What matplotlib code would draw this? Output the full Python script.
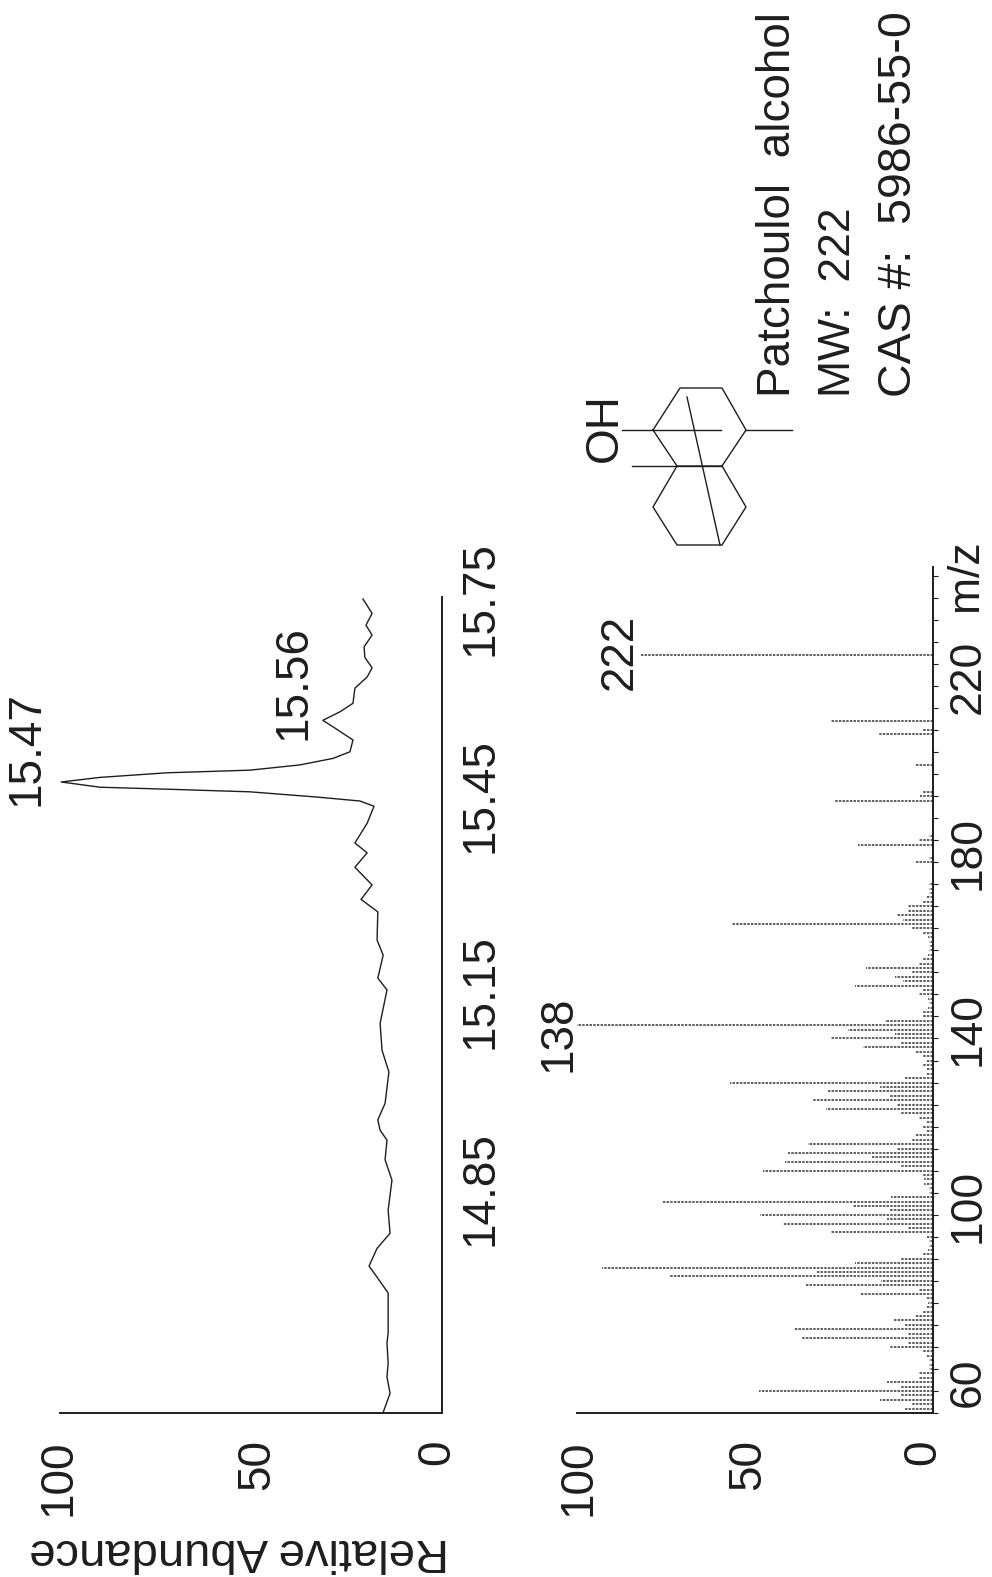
import matplotlib
matplotlib.use('Agg')
import matplotlib.pyplot as plt
from matplotlib.ticker import MultipleLocator
from matplotlib.transforms import ScaledTranslation

plt.rcParams['font.family'] = ['Liberation Sans', 'DejaVu Sans']

# chromatogram
rt = [14.509, 14.538, 14.563, 14.584, 14.615, 14.630, 14.691, 14.715, 14.732, 14.759,
      14.782, 14.817, 14.863, 14.894, 14.924, 14.939, 14.955, 14.980, 15.028, 15.061,
      15.102, 15.153, 15.171, 15.206, 15.229, 15.272, 15.291, 15.313, 15.340, 15.362,
      15.377, 15.407, 15.433, 15.441, 15.447, 15.455, 15.459, 15.462, 15.470, 15.477,
      15.484, 15.488, 15.496, 15.506, 15.516, 15.534, 15.554, 15.564, 15.577, 15.590,
      15.613, 15.630, 15.644, 15.660, 15.676, 15.694, 15.709, 15.727, 15.749]
rt_abundance = [15.4, 13.6, 14.4, 14.1, 14.4, 14.1, 14.1, 17.0, 19.1, 17.0,
                13.6, 14.1, 13.1, 14.9, 14.4, 16.2, 16.8, 14.9, 13.9, 15.7,
                16.2, 14.4, 16.8, 15.4, 17.0, 16.8, 21.2, 18.3, 22.8, 19.6,
                22.8, 19.6, 17.8, 21.5, 32.7, 50.3, 72.0, 89.5, 99.7, 89.5,
                72.0, 50.3, 37.2, 28.5, 24.1, 23.3, 28.5, 31.2, 26.7, 23.3,
                22.8, 19.6, 18.3, 20.2, 20.4, 18.3, 19.9, 18.3, 20.7]

rt_ticks = [14.85, 15.15, 15.45, 15.75]
abundance_ticks = [0, 50, 100]

# mass spectrum
mz = [50, 51, 52, 53, 54, 55, 56, 57, 58, 59, 60, 61, 62, 63, 64, 65, 66, 67, 68, 69,
      70, 71, 72, 73, 74, 75, 76, 77, 78, 79, 80, 81, 82, 83, 84, 85, 86, 87, 88, 89,
      90, 91, 92, 93, 94, 95, 96, 97, 98, 99, 100, 101, 102, 103, 104, 105, 106, 107,
      108, 109, 110, 111, 112, 113, 114, 115, 116, 117, 118, 119, 120, 121, 122, 123,
      124, 125, 126, 127, 128, 129, 130, 131, 132, 133, 134, 135, 136, 137, 138, 139,
      140, 141, 142, 143, 144, 145, 146, 147, 148, 149, 150, 151, 152, 153, 154, 155,
      156, 157, 158, 159, 160, 161, 162, 163, 164, 165, 166, 167, 168, 169, 170, 175,
      176, 179, 180, 181, 189, 190, 191, 197, 204, 205, 207, 222]
mz_abundance = [6, 8, 6, 15, 9, 49, 9, 13, 4, 4, 1, 1, 1, 2, 3, 12, 7, 37, 7, 39,
                8, 11, 5, 3, 2, 1.5, 2, 20.6, 4, 35.6, 14.5, 74, 33, 93, 22, 9.4, 3, 1.5, 1, 1,
                2, 28.6, 7, 42, 13, 48.7, 12, 22.5, 76, 11.7, 1, 1, 2.5, 2.5, 3, 47.8, 9, 41.7,
                17, 40.7, 10, 35, 6, 5, 2, 3, 2, 4, 9, 30, 10, 34, 12, 29.5,
                15, 57, 8, 2, 2, 3, 2, 3, 5, 19.7, 9, 28.6, 10.8, 24, 100, 13.6,
                3, 3, 1.5, 1, 1.5, 4, 3, 22, 8.4, 10.8, 6, 18.7, 4, 3, 1.5, 1,
                1, 1, 1.5, 3, 6, 56.6, 8.4, 10, 7, 7, 3, 2, 1, 1, 1, 5,
                1, 21, 4, 1, 27.6, 3.7, 3, 5, 15.4, 3, 28.6, 82]

mz_ticks = [60, 100, 140, 180, 220]

# molecule outline, in picture pixels
ring_a = [(653, 430), (680, 388), (722, 388), (746, 430), (722, 466), (677, 466), (653, 430)]
ring_b = [(677, 466), (653, 507), (677, 545), (722, 545), (746, 507), (722, 466)]
bonds = [[(622, 430), (721, 430)], [(746, 430), (792, 430)],
         [(632, 466), (722, 466)], [(687, 397), (720, 545)]]

W, H = 992, 1577
INK = '#1e1e1e'
FS = 33


def px_axes(fig, left, right, top, bottom):
    return fig.add_axes([left / W, 1 - bottom / H, (right - left) / W, (bottom - top) / H])


def style_axes(ax, y_pad, x_pad, x_shifts):
    for side in ['top', 'left']:
        ax.spines[side].set_visible(False)
    for side in ['bottom', 'right']:
        ax.spines[side].set_linewidth(1.4)
        ax.spines[side].set_color(INK)
    ax.yaxis.tick_right()
    ax.set_xticks(abundance_ticks)
    ax.set_xticklabels([str(v) for v in abundance_ticks], rotation=90, fontsize=FS, color=INK)
    ax.tick_params(axis='x', length=0, pad=x_pad)
    ax.tick_params(axis='y', pad=y_pad)
    for lab, dx in zip(ax.get_xticklabels(), x_shifts):
        lab.set_transform(lab.get_transform() + ScaledTranslation(dx / 100, 0, fig.dpi_scale_trans))


fig = plt.figure(figsize=(W / 100, H / 100), dpi=100)

# top panel: chromatogram on its side
ax1 = px_axes(fig, 60, 442, 597, 1413)
ax1.plot(rt_abundance, rt, color=INK, lw=1.0)
ax1.set_xlim(100, 0)
ax1.set_ylim(14.508, 15.752)
ax1.set_yticks(rt_ticks)
ax1.set_yticklabels([f'{v:.2f}' for v in rt_ticks], rotation=90, va='center', fontsize=FS, color=INK)
ax1.tick_params(axis='y', length=0)
style_axes(ax1, 12, 19, [-5, 6, -1])
ax1.annotate('15.47', xy=(100, 15.47), xytext=(-34, 33), textcoords='offset pixels',
             rotation=90, ha='center', va='center', fontsize=FS, color=INK)
ax1.annotate('15.56', xy=(25, 15.56), xytext=(-53, 40), textcoords='offset pixels',
             rotation=90, ha='center', va='center', fontsize=FS, color=INK)

# bottom panel: mass spectrum on its side
ax2 = px_axes(fig, 577, 933, 567, 1413)
ax2.hlines(mz, 0, mz_abundance, color='#333333', lw=1.1, linestyles=(0, (1.6, 0.8)))
ax2.set_xlim(100, 0)
ax2.set_ylim(50, 242)
ax2.set_yticks(mz_ticks)
ax2.set_yticklabels([str(v) for v in mz_ticks], rotation=90, va='center', fontsize=32, color=INK)
ax2.yaxis.set_minor_locator(MultipleLocator(5))
ax2.tick_params(axis='y', which='both', length=3.6, width=0.8, color=INK)
style_axes(ax2, 7, 19, [-10, -7, 1])
for lab in ax2.get_yticklabels():
    lab.set_transform(lab.get_transform() + ScaledTranslation(0, -0.13, fig.dpi_scale_trans))
ax2.annotate('138', xy=(100, 138), xytext=(-19, -8), textcoords='offset pixels',
             rotation=90, ha='center', va='center', fontsize=FS, color=INK)
ax2.annotate('222', xy=(82, 222), xytext=(-21, 3), textcoords='offset pixels',
             rotation=90, ha='center', va='center', fontsize=FS, color=INK)

# everything not tied to a scale goes on an overlay in picture pixels
over = fig.add_axes([0, 0, 1, 1])
over.set_xlim(0, W)
over.set_ylim(H, 0)
over.axis('off')
for path in [ring_a, ring_b] + bonds:
    over.plot([p[0] for p in path], [p[1] for p in path], color=INK, lw=1.0)

over.text(605, 428, 'OH', rotation=90, ha='center', va='center', fontsize=FS, color=INK)
over.text(778, 397, 'Patchoulol  alcohol', rotation=90, ha='center', va='bottom', fontsize=33, color=INK)
over.text(839, 397, 'MW:  222', rotation=90, ha='center', va='bottom', fontsize=32, color=INK)
over.text(899, 397, 'CAS #:  5986-55-0', rotation=90, ha='center', va='bottom', fontsize=33.5, color=INK)
over.text(966, 575, 'm/z', rotation=90, ha='center', va='center', fontsize=32, color=INK)
over.text(239, 1551, 'Relative Abundance', rotation=180, ha='center', va='center', fontsize=34, color=INK)

fig.savefig('out.png', dpi=100)
